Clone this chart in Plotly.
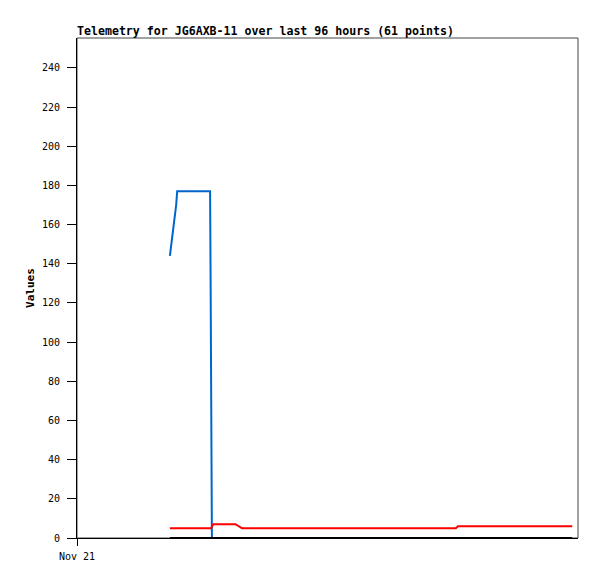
import plotly.graph_objects as go
from datetime import datetime, timedelta

start = datetime(2024, 11, 21, 0, 0)
axis_hours = 96.0

# hours after Nov 21 00:00
blue_hours = [17.8, 18.2, 18.6, 19.0, 19.2, 25.5, 25.6, 25.75, 25.85]
blue_vals = [144, 152, 160, 170, 177, 177, 133, 45, 0]

red_hours = [17.8, 25.7, 26.1, 30.4, 31.0, 31.6, 72.6, 73.0, 94.9]
red_vals = [5, 5, 7, 7, 6, 5, 5, 6, 6]

black_hours = [17.8, 94.9]
black_vals = [0, 0]

title_text = "Telemetry for JG6AXB-11 over last 96 hours (61 points)"
y_ticks = [0, 20, 40, 60, 80, 100, 120, 140, 160, 180, 200, 220, 240]


def to_dt(hours):
    return [start + timedelta(hours=h) for h in hours]


fig = go.Figure()
fig.add_trace(go.Scatter(x=to_dt(blue_hours), y=blue_vals, mode="lines",
                         line=dict(color="#0066cc", width=2), showlegend=False))
fig.add_trace(go.Scatter(x=to_dt(red_hours), y=red_vals, mode="lines",
                         line=dict(color="#ff0000", width=2), showlegend=False))
fig.add_trace(go.Scatter(x=to_dt(black_hours), y=black_vals, mode="lines",
                         line=dict(color="#000000", width=2), showlegend=False))

W, H = 589, 571
mono = "DejaVu Sans Mono"
fig.update_layout(
    width=W, height=H,
    margin=dict(l=69, r=19, t=30, b=41),
    paper_bgcolor="white", plot_bgcolor="white",
    title=dict(text="<b>" + title_text + "</b>", x=69 / W, xanchor="left",
               y=1 - 23 / H, yanchor="middle",
               font=dict(family=mono, size=11.6, color="black")),
    xaxis=dict(type="date", range=[start, start + timedelta(hours=axis_hours)],
               tickvals=[start], ticktext=["Nov 21"], showgrid=False,
               zeroline=False, showline=True, linecolor="black", linewidth=1,
               ticks="outside", ticklen=7, tickcolor="black",
               ticklabelstandoff=2,
               tickfont=dict(family=mono, size=10, color="black")),
    yaxis=dict(range=[0, 255.3], tickvals=y_ticks, showgrid=False,
               zeroline=False, showline=True, linecolor="black", linewidth=1,
               ticks="outside", ticklen=9, tickcolor="black",
               ticklabelstandoff=5,
               tickfont=dict(family=mono, size=10, color="black"),
               title=dict(text="<b>Values</b>", standoff=5,
                          font=dict(family=mono, size=11, color="black"))),
    shapes=[dict(type="rect", xref="paper", yref="paper", x0=0, x1=1, y0=0, y1=1,
                 line=dict(color="#444444", width=1), layer="below")],
)

fig.write_html("out.html")
